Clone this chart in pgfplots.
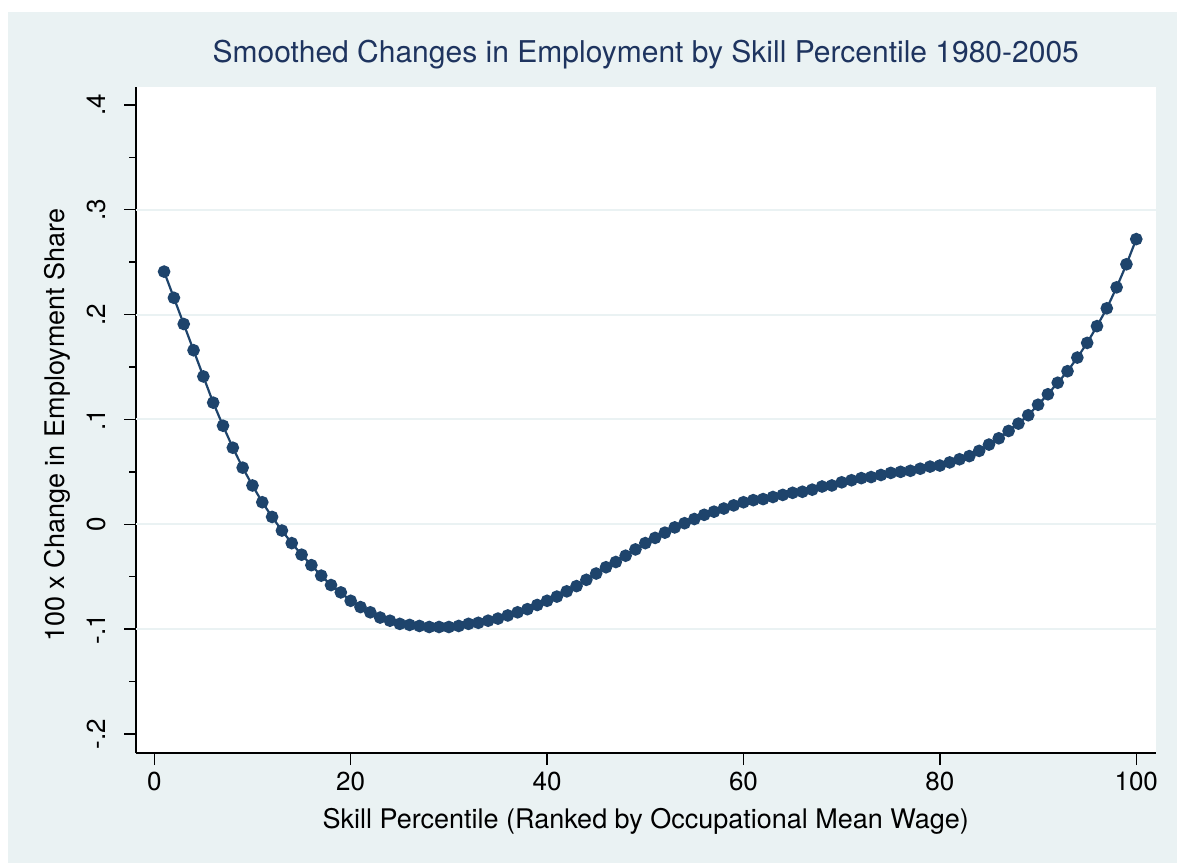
\documentclass[border=0pt]{standalone}
\usepackage{fontspec}
\setmainfont{TeX Gyre Heros}
\usepackage{pgfplots}
\pgfplotsset{compat=1.18}
\definecolor{bgc}{RGB}{234,242,243}
\definecolor{gridc}{RGB}{234,242,243}
\definecolor{navyc}{RGB}{30,68,108}
\definecolor{titlec}{RGB}{30,52,95}
\begin{document}
\begin{tikzpicture}
\useasboundingbox (0,0) rectangle (588.5pt,431.5pt);
\fill[white] (0,0) rectangle (588.5pt,431.5pt);
\fill[bgc] (4pt,0) rectangle (588.5pt,425.5pt);
\begin{axis}[
  at={(68pt,55pt)}, anchor=south west,
  scale only axis, width=509.75pt, height=333.15pt,
  axis background/.style={fill=white},
  xmin=-1.86, xmax=101.96, ymin=-0.2182, ymax=0.4174,
  axis x line*=bottom, axis y line*=left,
  axis line style={black, line width=0.7pt},
  every tick/.style={black, line width=0.7pt},
  tick align=outside,
  xtick={0,20,40,60,80,100},
  xticklabels={0,20,40,60,80,100},
  ytick={-0.2,-0.1,0,0.1,0.2,0.3,0.4},
  yticklabels={-.2,-.1,0,.1,.2,.3,.4},
  minor ytick={-0.15,-0.05,0.05,0.15,0.25,0.35},
  major tick length=6pt, minor tick length=3.5pt,
  extra y ticks={-0.1,0,0.1,0.2,0.3},
  extra y tick labels={},
  extra y tick style={grid=major, major tick length=0pt, major grid style={gridc, line width=1pt}},
  xticklabel style={font=\fontsize{13}{15}\selectfont},
  yticklabel style={font=\fontsize{13}{15}\selectfont, xshift=-5.5pt, rotate=90, anchor=south},
  title={Smoothed Changes in Employment by Skill Percentile 1980-2005},
  title style={font=\fontsize{15}{18}\selectfont, color=titlec, at={(axis description cs:0.5,1.0176)}, anchor=base},
  xlabel={Skill Percentile (Ranked by Occupational Mean Wage)},
  xlabel style={font=\fontsize{13.5}{16}\selectfont, at={(axis description cs:0.5,-0.1126)}, anchor=base},
  ylabel={100 x Change in Employment Share},
  ylabel style={font=\fontsize{13.5}{16}\selectfont, at={(axis description cs:-0.0775,0.492)}, anchor=center},
]
\addplot[color=navyc, line width=1.1pt, mark=*, mark size=2.6pt, mark options={fill=navyc, draw=navyc}] table {
x y
1 0.241
2 0.216
3 0.191
4 0.166
5 0.141
6 0.116
7 0.094
8 0.073
9 0.054
10 0.037
11 0.021
12 0.007
13 -0.006
14 -0.018
15 -0.029
16 -0.039
17 -0.049
18 -0.058
19 -0.065
20 -0.073
21 -0.079
22 -0.084
23 -0.089
24 -0.092
25 -0.095
26 -0.096
27 -0.097
28 -0.098
29 -0.098
30 -0.098
31 -0.097
32 -0.095
33 -0.094
34 -0.092
35 -0.090
36 -0.087
37 -0.084
38 -0.081
39 -0.077
40 -0.073
41 -0.069
42 -0.064
43 -0.059
44 -0.053
45 -0.047
46 -0.041
47 -0.036
48 -0.030
49 -0.024
50 -0.018
51 -0.013
52 -0.008
53 -0.003
54 0.001
55 0.005
56 0.009
57 0.012
58 0.015
59 0.018
60 0.021
61 0.023
62 0.024
63 0.026
64 0.028
65 0.030
66 0.031
67 0.033
68 0.036
69 0.037
70 0.040
71 0.042
72 0.044
73 0.045
74 0.047
75 0.049
76 0.050
77 0.051
78 0.053
79 0.055
80 0.056
81 0.059
82 0.062
83 0.065
84 0.070
85 0.076
86 0.082
87 0.089
88 0.096
89 0.104
90 0.114
91 0.124
92 0.135
93 0.146
94 0.159
95 0.173
96 0.189
97 0.206
98 0.226
99 0.248
100 0.272
};
\end{axis}
\end{tikzpicture}
\end{document}
